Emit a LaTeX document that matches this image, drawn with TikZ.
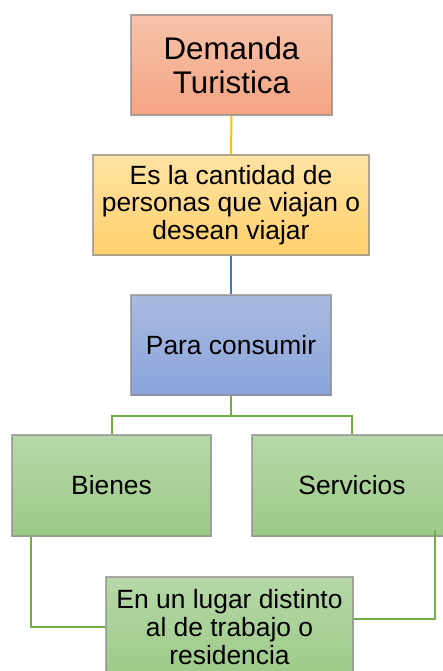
\documentclass[tikz,border=0pt]{standalone}
\usepackage{fontspec}
\setmainfont{Liberation Sans}
\usetikzlibrary{shadows}

\definecolor{demtop}{HTML}{F6C3AA}
\definecolor{dembot}{HTML}{F4A483}
\definecolor{deftop}{HTML}{FFE3A3}
\definecolor{defbot}{HTML}{FFD06C}
\definecolor{paratop}{HTML}{AABBE1}
\definecolor{parabot}{HTML}{8AA3DA}
\definecolor{greentop}{HTML}{B6D8A8}
\definecolor{greenbot}{HTML}{9DCA88}
\definecolor{lineyellow}{HTML}{FFC000}
\definecolor{lineblue}{HTML}{4472C4}
\definecolor{linegreen}{HTML}{70AD47}

\begin{document}
\begin{tikzpicture}[x=1pt, y=-1pt,
    box/.style={rectangle, draw=black!45, draw opacity=0.7, line width=1.2pt,
        inner sep=0pt, align=center, text=black,
        font=\fontsize{26.4}{27.6}\selectfont,
        drop shadow={opacity=0.25, shadow xshift=1pt, shadow yshift=-1pt}},
    greenbox/.style={box, top color=greentop, bottom color=greenbot},
    link/.style={line width=2pt}]

    \useasboundingbox (0,0) rectangle (442,671);

    % TOP PART

    % Title box
    \node[box, top color=demtop, bottom color=dembot,
        minimum width=201pt, minimum height=100pt,
        font=\fontsize{31.3}{34}\selectfont] (demanda) at (231.5,65)
    {Demanda\\Turistica};

    % Definition box
    \node[box, top color=deftop, bottom color=defbot,
        minimum width=276pt, minimum height=100pt] (cantidad) at (231,205)
    {Es la cantidad de\\personas que viajan o\\desean viajar};

    % Purpose box
    \node[box, top color=paratop, bottom color=parabot,
        minimum width=200pt, minimum height=100pt] (consumir) at (231,345)
    {Para consumir};

    % BOTTOM PART

    % Goods and services
    \node[greenbox, minimum width=199pt, minimum height=101pt] (bienes) at (111.5,485.5)
    {Bienes};
    \node[greenbox, minimum width=200pt, minimum height=101pt] (servicios) at (352,485.5)
    {Servicios};

    % Place box
    \node[greenbox, minimum width=247pt, minimum height=100pt] (lugar) at (229.5,627)
    {En un lugar distinto\\al de trabajo o\\residencia};

    % Connectors
    \draw[link, lineyellow] (demanda.south) -- (cantidad.north);
    \draw[link, lineblue] (cantidad.south) -- (consumir.north);
    \draw[link, linegreen] (consumir.south) -- ++(0,20) -| (bienes.north);
    \draw[link, linegreen] (consumir.south) -- ++(0,20) -| (servicios.north);
    \draw[link, linegreen] ([xshift=20pt]bienes.south west) |- (lugar.west);
    \draw[link, linegreen] ([shift={(-18pt,7pt)}]servicios.south east) |- ([yshift=8pt]lugar.east);

\end{tikzpicture}
\end{document}
